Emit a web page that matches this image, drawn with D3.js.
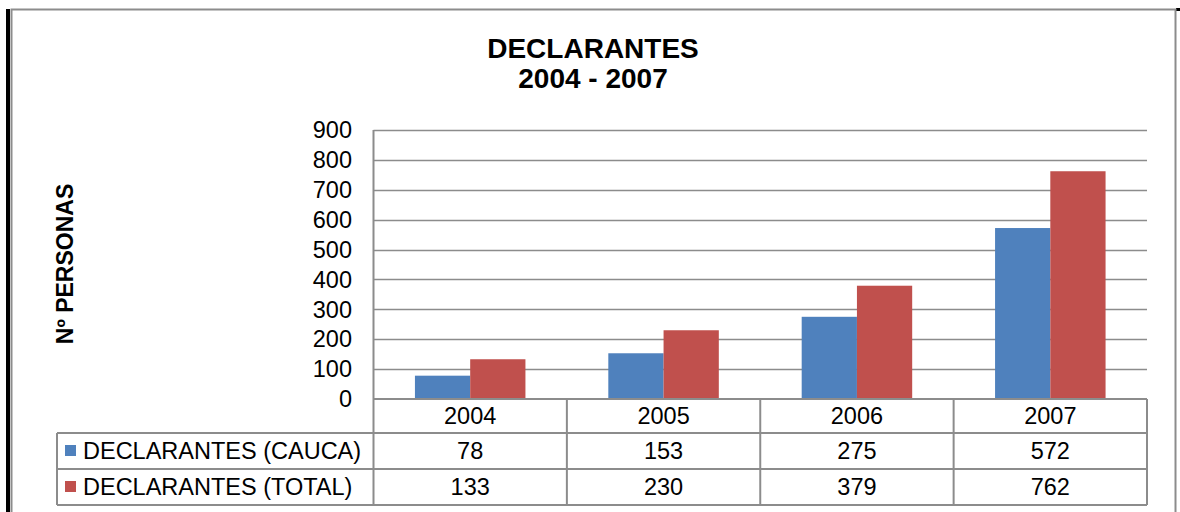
<!DOCTYPE html>
<html>
<head>
<meta charset="utf-8">
<script src="https://cdn.jsdelivr.net/npm/d3@7"></script>
<style>
  body { margin: 0; background: #fff; }
  svg { display: block; font-family: "Liberation Sans", Arial, sans-serif; }
</style>
</head>
<body>
<svg id="chart" width="1180" height="512"></svg>
<script>
// data
const years = ['2004', '2005', '2006', '2007'];
const seriesNames = ['DECLARANTES (CAUCA)', 'DECLARANTES (TOTAL)'];
const cauca = [78, 153, 275, 572];
const total = [133, 230, 379, 762];
const colors = ['#4f81bd', '#c0504d'];
const yTicks = [0, 100, 200, 300, 400, 500, 600, 700, 800, 900];

const svg = d3.select('#chart');
const fs = 23.5;

// outer frame
svg.append('rect').attr('x', 6).attr('y', 9).attr('width', 4).attr('height', 503).attr('fill', '#000');
svg.append('rect').attr('x', 1176).attr('y', 8).attr('width', 4).attr('height', 3).attr('fill', '#000');
svg.append('rect')
  .attr('x', 11.5).attr('y', 9.5).attr('width', 1164).attr('height', 510)
  .attr('fill', 'none').attr('stroke', '#8c8c8c').attr('stroke-width', 2);

const plot = { left: 373.5, right: 1147, top: 130, bottom: 399 };

const x = d3.scaleBand().domain(years).range([plot.left, plot.right]).paddingInner(0).paddingOuter(0);
const y = d3.scaleLinear().domain([0, 900]).range([plot.bottom, plot.top]);

// title
svg.append('text').attr('x', 593).attr('y', 58).attr('text-anchor', 'middle')
  .attr('font-size', 28).attr('font-weight', 'bold').text('DECLARANTES');
svg.append('text').attr('x', 593).attr('y', 88).attr('text-anchor', 'middle')
  .attr('font-size', 28).attr('font-weight', 'bold').text('2004 - 2007');

// y axis label
svg.append('text').attr('transform', 'translate(73,264) rotate(-90)')
  .attr('text-anchor', 'middle').attr('font-size', 23).attr('font-weight', 'bold')
  .text('Nº PERSONAS');

// gridlines
svg.append('g').selectAll('line').data(yTicks.filter(d => d > 0)).join('line')
  .attr('x1', plot.left).attr('x2', plot.right)
  .attr('y1', d => Math.round(y(d)) + 0.5).attr('y2', d => Math.round(y(d)) + 0.5)
  .attr('stroke', '#8c8c8c').attr('stroke-width', 1.5);

// y tick labels
svg.append('g').selectAll('text').data(yTicks).join('text')
  .attr('x', 352).attr('y', d => y(d)).attr('dy', '0.35em')
  .attr('text-anchor', 'end').attr('font-size', fs).text(d => d);

// bars
const barW = x.bandwidth() / 3.5;
const series = [cauca, total];
series.forEach((vals, s) => {
  svg.append('g').selectAll('rect').data(years).join('rect')
    .attr('x', (d, i) => x(d) + x.bandwidth() / 2 - barW + s * barW)
    .attr('y', (d, i) => y(vals[i]))
    .attr('width', barW)
    .attr('height', (d, i) => plot.bottom - y(vals[i]))
    .attr('fill', colors[s]);
});

// y axis line
svg.append('line').attr('x1', plot.left).attr('x2', plot.left)
  .attr('y1', plot.top).attr('y2', 505)
  .attr('stroke', '#8c8c8c').attr('stroke-width', 2);

// data table
const rowY = [399, 433, 469, 505];
const tableLeft = 57;
const grid = svg.append('g').attr('stroke', '#8c8c8c').attr('stroke-width', 2);
grid.append('line').attr('x1', plot.left).attr('x2', plot.right).attr('y1', rowY[0]).attr('y2', rowY[0]);
rowY.slice(1).forEach(r => {
  grid.append('line').attr('x1', tableLeft).attr('x2', plot.right).attr('y1', r).attr('y2', r);
});
grid.append('line').attr('x1', tableLeft).attr('x2', tableLeft).attr('y1', rowY[1]).attr('y2', rowY[3]);
years.forEach(yr => {
  grid.append('line').attr('x1', x(yr) + x.bandwidth()).attr('x2', x(yr) + x.bandwidth())
    .attr('y1', rowY[0]).attr('y2', rowY[3]);
});

// header years
svg.append('g').selectAll('text').data(years).join('text')
  .attr('x', d => x(d) + x.bandwidth() / 2).attr('y', (rowY[0] + rowY[1]) / 2)
  .attr('dy', '0.35em').attr('text-anchor', 'middle').attr('font-size', fs).text(d => d);

// series rows
series.forEach((vals, s) => {
  const cy = (rowY[s + 1] + rowY[s + 2]) / 2;
  svg.append('rect').attr('x', 65).attr('y', cy - 6).attr('width', 11).attr('height', 11).attr('fill', colors[s]);
  svg.append('text').attr('x', 83).attr('y', cy).attr('dy', '0.35em')
    .attr('font-size', fs).text(seriesNames[s]);
  svg.append('g').selectAll('text').data(years).join('text')
    .attr('x', d => x(d) + x.bandwidth() / 2).attr('y', cy)
    .attr('dy', '0.35em').attr('text-anchor', 'middle').attr('font-size', fs)
    .text((d, i) => vals[i]);
});
</script>
</body>
</html>
